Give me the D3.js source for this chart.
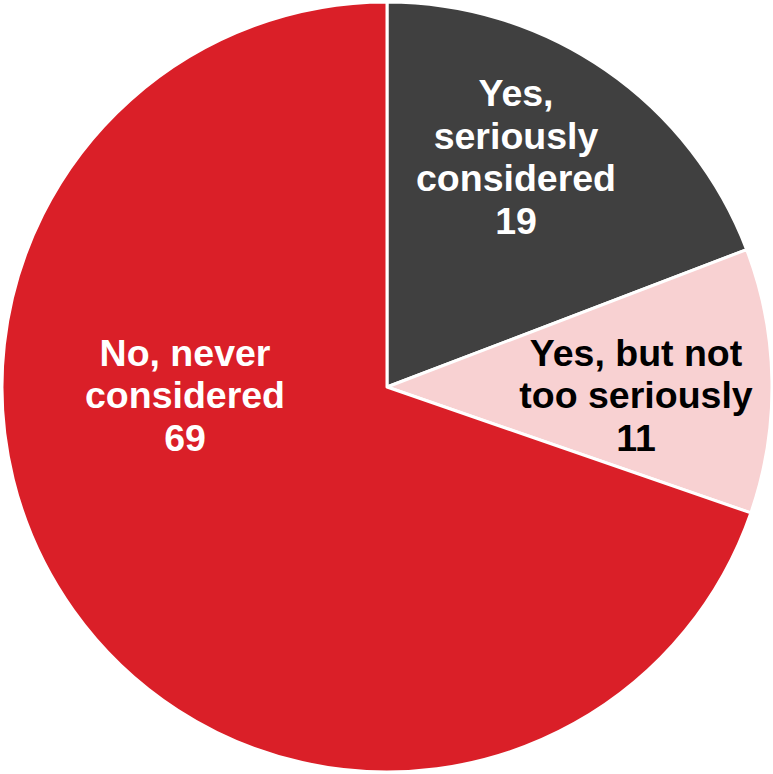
<!DOCTYPE html>
<html>
<head>
<meta charset="utf-8">
<script src="https://cdn.jsdelivr.net/npm/d3@7"></script>
<style>
  html, body { margin: 0; padding: 0; background: #fff; }
  svg { display: block; }
</style>
</head>
<body>
<svg id="chart" width="773" height="774"></svg>
<script>
// Survey responses (percent)
const categories = ["Yes, seriously considered", "Yes, but not too seriously", "No, never considered"];
const values = [19, 11, 69];
const labelLines = [
  ["Yes,", "seriously", "considered"],
  ["Yes, but not", "too seriously"],
  ["No, never", "considered"]
];
const colors = ["#404040", "#F8D1D2", "#DA1F28"];
const textColors = ["#ffffff", "#000000", "#ffffff"];

// Label placement (center of text block, relative to pie center)
const labelCenters = [[129, -230], [249, 8], [-202, 8]];

const cx = 387, cy = 387, radius = 385;
const fontSize = 37.5, lineHeight = 42.5;

const svg = d3.select("#chart");
const g = svg.append("g").attr("transform", `translate(${cx},${cy})`);

const data = categories.map((c, i) => ({ category: c, value: values[i], i }));

const pie = d3.pie().value(d => d.value).sort(null);
const arc = d3.arc().innerRadius(0).outerRadius(radius);

const arcs = pie(data);

g.selectAll("path.slice")
  .data(arcs)
  .join("path")
  .attr("class", "slice")
  .attr("d", arc)
  .attr("fill", d => colors[d.data.i])
  .attr("stroke", "#ffffff")
  .attr("stroke-width", 3)
  .attr("stroke-linejoin", "round");

const labels = g.selectAll("text.label")
  .data(arcs)
  .join("text")
  .attr("class", "label")
  .attr("text-anchor", "middle")
  .attr("font-family", "'Liberation Sans', Arial, sans-serif")
  .attr("font-weight", "bold")
  .attr("font-size", fontSize)
  .attr("fill", d => textColors[d.data.i]);

labels.each(function(d) {
  const lines = labelLines[d.data.i].concat([String(d.data.value)]);
  const [lx, ly] = labelCenters[d.data.i];
  const n = lines.length;
  const firstBaseline = ly - (n - 1) * lineHeight / 2 + fontSize * 0.35;
  d3.select(this).selectAll("tspan")
    .data(lines)
    .join("tspan")
    .attr("x", lx)
    .attr("y", (t, k) => firstBaseline + k * lineHeight)
    .text(t => t);
});
</script>
</body>
</html>
